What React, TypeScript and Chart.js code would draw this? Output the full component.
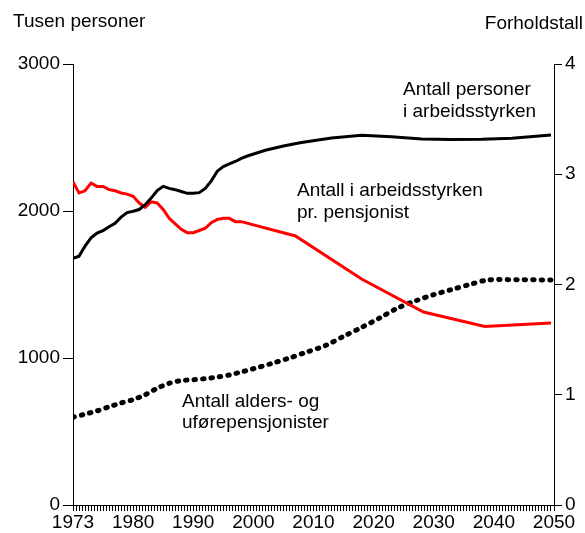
import React, { useEffect, useRef } from "react";
import { Chart, registerables } from "chart.js";

Chart.register(...registerables);

// Axis position units (the first label "1973" sits at the start of the axis)
const laborYears = [
  1970, 1971, 1972, 1973, 1974, 1975, 1976, 1977, 1978, 1979,
  1980, 1981, 1982, 1983, 1984, 1985, 1986, 1987, 1988, 1989,
  1990, 1991, 1992, 1993, 1994, 1995, 1996, 1997, 1998, 1999,
  2002, 2005, 2008, 2013, 2018, 2023, 2028, 2033, 2038, 2043, 2049.5,
];
const laborValues = [
  1678, 1692, 1761, 1818, 1850, 1867, 1893, 1917, 1958, 1989,
  1998, 2010, 2043, 2088, 2139, 2168, 2154, 2145, 2133, 2120,
  2120, 2125, 2153, 2205, 2271, 2302, 2320, 2337, 2358, 2374,
  2413, 2442, 2466, 2496, 2516, 2505, 2490, 2487, 2488, 2495, 2517,
];

const ratioYears = [
  1970, 1971, 1972, 1973, 1974, 1975, 1976, 1977, 1978, 1979,
  1980, 1981, 1982, 1983, 1984, 1985, 1986, 1987, 1988, 1989,
  1990, 1991, 1992, 1993, 1994, 1995, 1996, 1997, 1998,
  2007, 2018, 2028.3, 2038.5, 2049.5,
];
const ratioValues = [
  2.93, 2.83, 2.85, 2.92, 2.89, 2.89, 2.86, 2.85, 2.83, 2.82,
  2.8, 2.74, 2.7, 2.75, 2.74, 2.68, 2.6, 2.55, 2.5, 2.47,
  2.47, 2.49, 2.51, 2.56, 2.59, 2.6, 2.6, 2.57, 2.57,
  2.44, 2.05, 1.75, 1.62, 1.65,
];

const pensionerYears = [
  1970, 1972, 1974, 1976, 1978, 1980, 1982, 1984, 1986, 1988,
  1990, 1992, 1994, 1996, 1998, 2000, 2003, 2006, 2009, 2012,
  2015, 2018, 2021, 2024, 2027, 2030, 2033, 2036, 2039, 2044, 2049.5,
];
const pensionerValues = [
  597, 618, 640, 668, 694, 717, 750, 794, 828, 846,
  852, 860, 870, 885, 905, 927, 962, 1000, 1042, 1085,
  1147, 1208, 1272, 1340, 1389, 1431, 1466, 1500, 1531, 1532, 1531,
];

const xLabelPositions = [1970, 1980, 1990, 2000, 2010, 2020, 2030, 2040, 2050];
const xLabelTexts = ["1973", "1980", "1990", "2000", "2010", "2020", "2030", "2040", "2050"];
const leftTicks = [0, 1000, 2000, 3000];
const rightTicks = [0, 1, 2, 3, 4];

const FONT = '"Liberation Sans", Arial, Helvetica, sans-serif';
const FONT_SIZE = 19;

const textPlugin = {
  id: "textAnnotations",
  afterDraw(chart: any) {
    const ctx = chart.ctx;
    ctx.save();
    ctx.font = `${FONT_SIZE}px ${FONT}`;
    ctx.fillStyle = "#000";
    ctx.textBaseline = "alphabetic";
    ctx.textAlign = "left";
    ctx.fillText("Tusen personer", 13, 27);
    ctx.fillText("Antall personer", 403, 95);
    ctx.fillText("i arbeidsstyrken", 403, 117);
    ctx.fillText("Antall i arbeidsstyrken", 297, 196);
    ctx.fillText("pr. pensjonist", 297, 218);
    ctx.fillText("Antall alders- og", 182, 407);
    ctx.fillText("uførepensjonister", 182, 428);
    ctx.textAlign = "right";
    ctx.fillText("Forholdstall", 583, 29);
    ctx.restore();
  },
};

export default function App() {
  const canvasRef = useRef<HTMLCanvasElement | null>(null);

  useEffect(() => {
    const canvas = canvasRef.current;
    if (!canvas) return;
    const halfYearTicks: number[] = [];
    for (let v = 1970; v <= 2050; v += 0.5) halfYearTicks.push(v);

    const chart = new Chart(canvas, {
      type: "line",
      data: {
        datasets: [
          {
            label: "Antall personer i arbeidsstyrken",
            data: laborYears.map((x, i) => ({ x, y: laborValues[i] })),
            borderColor: "#000000",
            borderWidth: 3,
            pointRadius: 0,
            tension: 0,
            yAxisID: "y",
            xAxisID: "x",
          },
          {
            label: "Antall i arbeidsstyrken pr. pensjonist",
            data: ratioYears.map((x, i) => ({ x, y: ratioValues[i] })),
            borderColor: "#ff0000",
            borderWidth: 3,
            pointRadius: 0,
            tension: 0,
            yAxisID: "y1",
            xAxisID: "x",
          },
          {
            label: "Antall alders- og uførepensjonister",
            data: pensionerYears.map((x, i) => ({ x, y: pensionerValues[i] })),
            borderColor: "#000000",
            borderWidth: 5,
            borderDash: [1.5, 7],
            borderCapStyle: "round",
            pointRadius: 0,
            tension: 0.3,
            yAxisID: "y",
            xAxisID: "x",
          },
        ],
      },
      options: {
        animation: false,
        responsive: false,
        devicePixelRatio: 1,
        layout: { padding: { top: 64, left: 0, right: 0, bottom: 0 } },
        plugins: {
          legend: { display: false },
          tooltip: { enabled: false },
          title: { display: false },
        },
        scales: {
          x: {
            type: "linear",
            min: 1970,
            max: 2050,
            afterBuildTicks: (scale: any) => {
              scale.ticks = halfYearTicks.map((v) => ({ value: v }));
            },
            afterFit: (scale: any) => {
              scale.height = 28;
            },
            ticks: {
              autoSkip: false,
              maxRotation: 0,
              padding: 0,
              color: "#000",
              font: { family: FONT, size: FONT_SIZE },
              callback: (value: any) => {
                const idx = xLabelPositions.indexOf(Number(value));
                return idx >= 0 ? xLabelTexts[idx] : "";
              },
            },
            grid: { drawOnChartArea: false, tickLength: 6, color: "#000", lineWidth: 1 },
            border: { color: "#000", width: 1 },
          },
          y: {
            type: "linear",
            position: "left",
            min: 0,
            max: 3000,
            afterBuildTicks: (scale: any) => {
              scale.ticks = leftTicks.map((v) => ({ value: v }));
            },
            afterFit: (scale: any) => {
              scale.width = 73;
            },
            ticks: {
              padding: 3,
              color: "#000",
              font: { family: FONT, size: FONT_SIZE },
              callback: (value: any) => String(value),
            },
            grid: { drawOnChartArea: false, tickLength: 10, color: "#000", lineWidth: 1 },
            border: { color: "#000", width: 1 },
          },
          y1: {
            type: "linear",
            position: "right",
            min: 0,
            max: 4,
            afterBuildTicks: (scale: any) => {
              scale.ticks = rightTicks.map((v) => ({ value: v }));
            },
            afterFit: (scale: any) => {
              scale.width = 31;
            },
            ticks: {
              padding: 3,
              color: "#000",
              font: { family: FONT, size: FONT_SIZE },
              callback: (value: any) => String(value),
            },
            grid: { drawOnChartArea: false, tickLength: 8, color: "#000", lineWidth: 1 },
            border: { color: "#000", width: 1 },
          },
        },
      },
      plugins: [textPlugin],
    } as any);

    return () => {
      chart.destroy();
    };
  }, []);

  return (
    <div style={{ position: "absolute", left: 0, top: 0, width: 585, height: 533, background: "#fff" }}>
      <canvas ref={canvasRef} width={585} height={533} style={{ width: 585, height: 533, display: "block" }} />
    </div>
  );
}
